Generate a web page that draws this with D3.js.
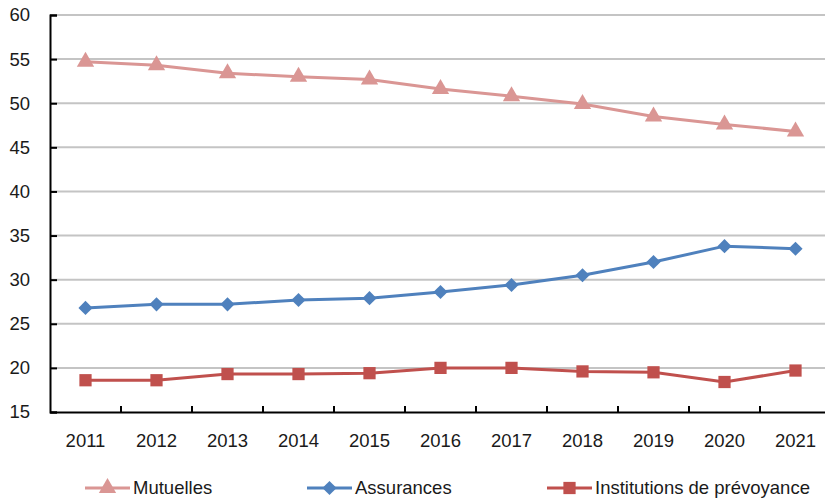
<!DOCTYPE html>
<html>
<head>
<meta charset="utf-8">
<script src="https://cdn.jsdelivr.net/npm/d3@7"></script>
<style>
  body { margin: 0; background: #fff; }
  text { font-family: "Liberation Sans", Arial, sans-serif; fill: #1a1a1a; }
</style>
</head>
<body>
<div id="chart"></div>
<script>
const years = ['2011', '2012', '2013', '2014', '2015', '2016', '2017', '2018', '2019', '2020', '2021'];
const mutuelles = [54.7, 54.3, 53.4, 53.0, 52.7, 51.6, 50.8, 49.9, 48.5, 47.6, 46.8];
const assurances = [26.8, 27.2, 27.2, 27.7, 27.9, 28.6, 29.4, 30.5, 32.0, 33.8, 33.5];
const institutions = [18.6, 18.6, 19.3, 19.3, 19.4, 20.0, 20.0, 19.6, 19.5, 18.4, 19.7];
const yTicks = [15, 20, 25, 30, 35, 40, 45, 50, 55, 60];

// square turned 45 degrees, like the office-style diamond marker
const wideDiamond = {
  draw(context, size) {
    const r = Math.sqrt(size / 2);
    context.moveTo(0, -r);
    context.lineTo(r, 0);
    context.lineTo(0, r);
    context.lineTo(-r, 0);
    context.closePath();
  }
};

const series = [
  { name: 'Mutuelles', values: mutuelles, color: '#DA9694', symbol: d3.symbolTriangle, size: 130, legendX: 85 },
  { name: 'Assurances', values: assurances, color: '#4F81BD', symbol: wideDiamond, size: 100, legendX: 307 },
  { name: 'Institutions de prévoyance', values: institutions, color: '#C0504D', symbol: d3.symbolSquare, size: 150, legendX: 547 }
];

const width = 825, height = 503;
const margin = { top: 15, right: -6, bottom: 91, left: 50 };
const fontSize = '18.5px';

const svg = d3.select('#chart').append('svg')
  .attr('width', width)
  .attr('height', height);

const xScale = d3.scaleBand().domain(years).range([margin.left, width - margin.right]);
const yScale = d3.scaleLinear().domain([15, 60]).range([height - margin.bottom, margin.top]);

// gridlines
svg.append('g')
  .selectAll('line')
  .data(yTicks.filter(t => t > 15))
  .enter().append('line')
  .attr('x1', margin.left)
  .attr('x2', width)
  .attr('y1', d => yScale(d))
  .attr('y2', d => yScale(d))
  .attr('stroke', '#C4C4C4')
  .attr('stroke-width', 2);

// y axis
const yAxis = svg.append('g')
  .attr('transform', `translate(${margin.left},0)`)
  .call(d3.axisRight(yScale).tickValues(yTicks).tickSize(7).tickFormat(d3.format('d')));
yAxis.select('.domain').attr('stroke', '#000').attr('stroke-width', 2);
yAxis.selectAll('.tick line').attr('stroke', '#000').attr('stroke-width', 2);
yAxis.selectAll('.tick text')
  .attr('x', -20)
  .attr('text-anchor', 'end')
  .style('font-size', fontSize);

// x axis
const xAxis = svg.append('g')
  .attr('transform', `translate(0,${yScale(15)})`)
  .call(d3.axisTop(xScale).tickSize(0));
xAxis.select('.domain').attr('stroke', '#000').attr('stroke-width', 2);
xAxis.selectAll('.tick text')
  .attr('y', 35)
  .style('font-size', fontSize);

// tick marks between categories
svg.append('g')
  .selectAll('line')
  .data(years.slice(1))
  .enter().append('line')
  .attr('x1', d => xScale(d))
  .attr('x2', d => xScale(d))
  .attr('y1', yScale(15))
  .attr('y2', yScale(15) - 6)
  .attr('stroke', '#000')
  .attr('stroke-width', 2);

const line = d3.line()
  .x((d, i) => xScale(years[i]) + xScale.bandwidth() / 2)
  .y(d => yScale(d));

series.forEach(s => {
  svg.append('path')
    .datum(s.values)
    .attr('fill', 'none')
    .attr('stroke', s.color)
    .attr('stroke-width', 3)
    .attr('d', line);

  svg.append('g')
    .selectAll('path')
    .data(s.values)
    .enter().append('path')
    .attr('transform', (d, i) => `translate(${xScale(years[i]) + xScale.bandwidth() / 2},${yScale(d)})`)
    .attr('d', d3.symbol().type(s.symbol).size(s.size))
    .attr('fill', s.color);

  // legend
  const lg = svg.append('g').attr('transform', `translate(${s.legendX},488)`);
  lg.append('line')
    .attr('x1', 0).attr('x2', 45)
    .attr('stroke', s.color)
    .attr('stroke-width', 3);
  lg.append('path')
    .attr('transform', 'translate(22.5,0)')
    .attr('d', d3.symbol().type(s.symbol).size(s.size))
    .attr('fill', s.color);
  lg.append('text')
    .attr('x', 48)
    .attr('dy', '0.35em')
    .style('font-size', fontSize)
    .text(s.name);
});
</script>
</body>
</html>
